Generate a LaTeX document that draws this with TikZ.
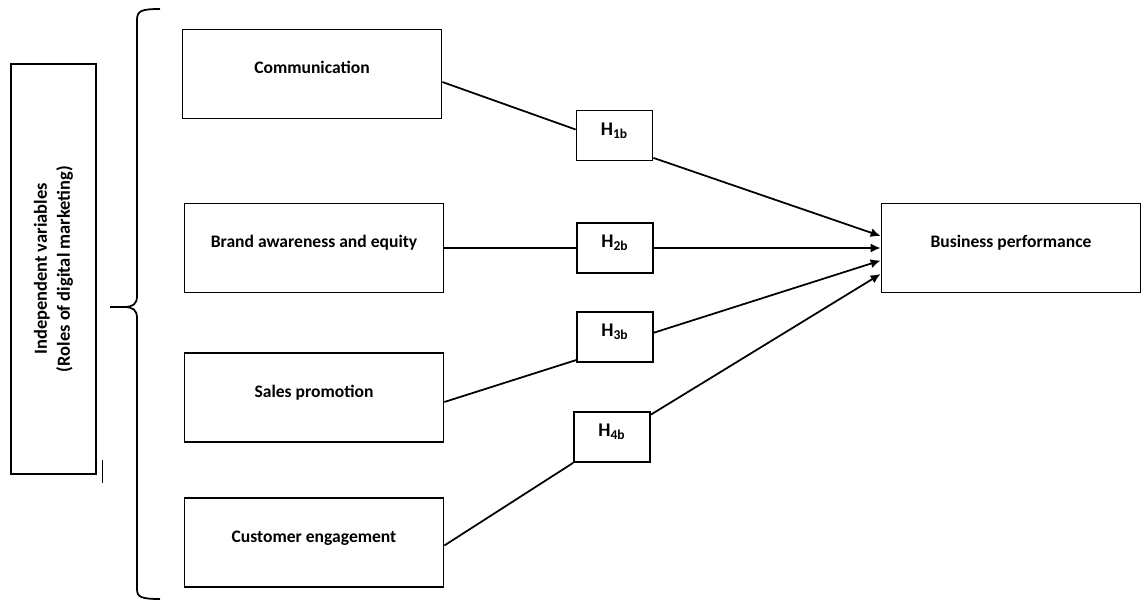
\documentclass[tikz,border=0pt]{standalone}
\usepackage{fontspec}
\setmainfont{Carlito}
\usetikzlibrary{arrows.meta}

\begin{document}
\begin{tikzpicture}[x=0.02cm,y=-0.02cm,>={Latex[length=2mm,width=1.8mm]},line width=1pt]

\tikzset{%
every box/.style={
draw,
inner sep=0pt,
font=\bfseries\fontsize{10}{12}\selectfont,
text height=2mm,
text depth=2mm
},
var box/.style={
minimum width=5.18cm,
minimum height=1.78cm
},
hyp box/.style={
minimum width=1.52cm,
minimum height=1cm,
font=\bfseries\fontsize{11}{13}\selectfont
},
}

\useasboundingbox (0,0) rectangle (1147,601);

% Group label on the left
\node [draw, rotate=90, minimum width=8.2cm, minimum height=1.7cm, align=center,
font=\bfseries\fontsize{10.5}{13}\selectfont] (group) at (53.5,269)
{Independent variables\\(Roles of digital marketing)};
\draw [line width=0.6pt] (102.5,460) -- (102.5,483);

% Brace
\draw (160,9) .. controls (141,9) and (137,11) .. (137,20) -- (137,296)
.. controls (137,304) and (133,307) .. (124,307) -- (110,307);
\draw (124,307) .. controls (133,307) and (137,310) .. (137,318) -- (137,589)
.. controls (137,597) and (141,599) .. (160,599);

% Independent variable boxes
\foreach \x/\y/\t [count=\i] in {312/74/Communication, 314/248/Brand awareness and equity,
314/397.5/Sales promotion, 314/542.5/Customer engagement}
\node [every box, var box] (var-\i) at (\x,\y) {\t};

% Hypothesis boxes
\foreach \x/\y [count=\i] in {614.5/135.5, 615/248, 615/336.7, 612/437}
\node [every box, hyp box] (h-\i) at (\x,\y) {H\textsubscript{\i b}};

% Dependent variable
\node [every box, var box] (perf) at (1011,248) {Business performance};

% Variables to hypotheses
\draw ([yshift=-0.16cm]var-1.east) -- ([yshift=0.12cm]h-1.west);
\draw (var-2) -- (h-2);
\draw ([yshift=-0.09cm]var-3.east) -- ([yshift=0.05cm]h-3.south west);
\draw ([yshift=-0.06cm]var-4.east) -- (h-4.south west);

% Hypotheses to business performance
\draw [->] ([yshift=0.07cm]h-1.south east) -- ([yshift=0.24cm]perf.west);
\draw [->] (h-2) -- (perf);
\draw [->] ([yshift=0.08cm]h-3.east) -- ([yshift=-0.25cm]perf.west);
\draw [->] ([yshift=-0.07cm]h-4.north east) -- ([yshift=-0.52cm]perf.west);

\end{tikzpicture}
\end{document}
